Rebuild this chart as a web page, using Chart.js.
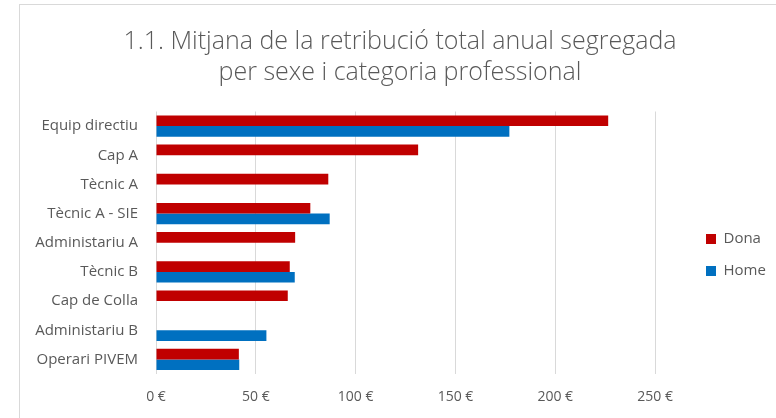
<!DOCTYPE html>
<html>
<head>
<meta charset="utf-8">
<script src="https://cdn.jsdelivr.net/npm/chart.js@4/dist/chart.umd.min.js"></script>
<style>
  html, body { margin: 0; padding: 0; background: #fff; overflow: hidden; }
  #frame { position: absolute; left: 19px; top: 4px; width: 800px; height: 450px;
           border-left: 1px solid #d9d9d9; border-top: 1px solid #d9d9d9; }
  #wrap { position: absolute; left: 0; top: 0; width: 776px; height: 418px; }
</style>
</head>
<body>
<div id="frame"></div>
<div id="wrap"><canvas id="chart" width="776" height="418"></canvas></div>
<script>
const categories = ['Equip directiu', 'Cap A', 'Tècnic A', 'Tècnic A - SIE', 'Administariu A',
                    'Tècnic B', 'Cap de Colla', 'Administariu B', 'Operari PIVEM'];
const dona = [226.5, 131.3, 86.3, 77.3, 69.7, 67, 66, null, 41.5];
const home = [177, null, null, 87, null, 69.5, null, 55.3, 41.7];
const xTicks = [0, 50, 100, 150, 200, 250];

const grey = '#595959';
const font = 'Open Sans';

// nudge legend and title to where Excel put them
const placeBoxes = {
  id: 'placeBoxes',
  afterLayout(chart) {
    const lg = chart.legend;
    const w = lg.right - lg.left;
    lg.left = 689;
    lg.right = 689 + w + 40;
    lg.width = w + 40;
    lg.top += 46;
    lg.bottom += 46;
    const t = chart.titleBlock;
    t.left = 24;
    t.right = 776;
    t.width = 752;
  }
};

const ctx = document.getElementById('chart').getContext('2d');
new Chart(ctx, {
  type: 'bar',
  data: {
    labels: categories,
    datasets: [
      { label: 'Dona', data: dona, backgroundColor: '#C00000' },
      { label: 'Home', data: home, backgroundColor: '#0070C0' }
    ]
  },
  options: {
    indexAxis: 'y',
    responsive: false,
    animation: false,
    events: [],
    datasets: { bar: { barPercentage: 1, categoryPercentage: 0.73 } },
    layout: { padding: { left: 0, right: 34, top: 0, bottom: 0 } },
    plugins: {
      title: {
        display: true,
        text: ['1.1. Mitjana de la retribució total anual segregada', 'per sexe i categoria professional'],
        color: grey,
        font: { family: font, size: 25, weight: '300', lineHeight: 1.25 },
        padding: { top: 26, bottom: 23 }
      },
      legend: {
        position: 'right',
        labels: {
          color: grey,
          font: { family: font, size: 15 },
          boxWidth: 10,
          boxHeight: 10,
          padding: 17
        }
      },
      tooltip: { enabled: false }
    },
    scales: {
      x: {
        min: 0,
        max: 250,
        afterBuildTicks(scale) { scale.ticks = xTicks.map(v => ({ value: v })); },
        afterFit(scale) { scale.height = 44; },
        grid: { color: '#d9d9d9', drawTicks: false },
        border: { display: false },
        ticks: {
          color: grey,
          font: { family: font, size: 14 },
          padding: 15,
          callback: v => v + ' €'
        }
      },
      y: {
        afterFit(scale) { scale.width = 156; },
        grid: { display: false, drawTicks: false },
        border: { display: false },
        ticks: {
          color: grey,
          font: { family: font, size: 15 },
          padding: 18
        }
      }
    }
  },
  plugins: [placeBoxes]
});
</script>
</body>
</html>
